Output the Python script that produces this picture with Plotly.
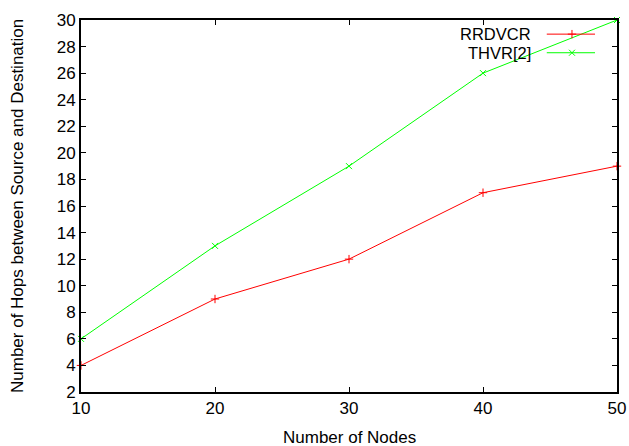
import plotly.graph_objects as go

nodes = [10, 20, 30, 40, 50]
rrdvcr = [4, 9, 12, 17, 19]
thvr = [6, 13, 19, 26, 30]
series_names = ["RRDVCR", "THVR[2]"]
colors = ["#ff0000", "#00ff00"]
symbols = ["cross-thin", "x-thin"]

L, R, T, B = 81, 12, 20, 54
W, H = 629, 446

fig = go.Figure()
for name, ys, c, s in zip(series_names, [rrdvcr, thvr], colors, symbols):
    fig.add_trace(go.Scatter(x=nodes, y=ys, mode="lines+markers", name=name,
                             line=dict(color=c, width=1), cliponaxis=False,
                             marker=dict(symbol=s, size=6, color=c, line=dict(color=c, width=1)),
                             showlegend=False))

# gnuplot-style legend (text on left, sample on right)
leg_y = [0.962, 0.912]
for name, c, s, yy in zip(series_names, colors, symbols, leg_y):
    fig.add_trace(go.Scatter(x=[0.869, 0.959], y=[yy, yy], mode="lines", xaxis="x2", yaxis="y2",
                             line=dict(color=c, width=1), showlegend=False, hoverinfo="skip"))
    fig.add_trace(go.Scatter(x=[0.916], y=[yy], mode="markers", xaxis="x2", yaxis="y2",
                             marker=dict(symbol=s, size=6, color=c, line=dict(color=c, width=1)),
                             showlegend=False, hoverinfo="skip"))
    fig.add_annotation(x=0.843, y=yy, xref="paper", yref="paper", text=name, showarrow=False,
                       xanchor="right", yanchor="middle", font=dict(size=16.5, color="black"))

fig.add_annotation(x=0.5, y=-0.122, xref="paper", yref="paper", text="Number of Nodes",
                   showarrow=False, xanchor="center", yanchor="middle", font=dict(size=17, color="black"))
fig.add_annotation(x=0, xshift=-64, y=0.5, xref="paper", yref="paper",
                   text="Number of Hops between Source and Destination", textangle=-90,
                   showarrow=False, xanchor="center", yanchor="middle", font=dict(size=17, color="black"))

axis_common = dict(showgrid=False, zeroline=False, showline=True, linecolor="black", linewidth=2,
                   mirror="ticks", ticks="inside", ticklen=5, tickwidth=1, tickcolor="black",
                   automargin=False, tickfont=dict(size=17, color="black"))
fig.update_layout(
    width=W, height=H,
    margin=dict(l=L, r=R, t=T, b=B, autoexpand=False),
    plot_bgcolor="white", paper_bgcolor="white",
    font=dict(family="Liberation Sans, Arial, sans-serif", color="black"),
    xaxis=dict(range=[10, 50], dtick=10, tick0=10, **axis_common),
    yaxis=dict(range=[2, 30], dtick=2, tick0=2, **axis_common),
    xaxis2=dict(range=[0, 1], overlaying="x", visible=False, fixedrange=True),
    yaxis2=dict(range=[0, 1], overlaying="y", visible=False, fixedrange=True),
)
fig.write_html("out.html")
